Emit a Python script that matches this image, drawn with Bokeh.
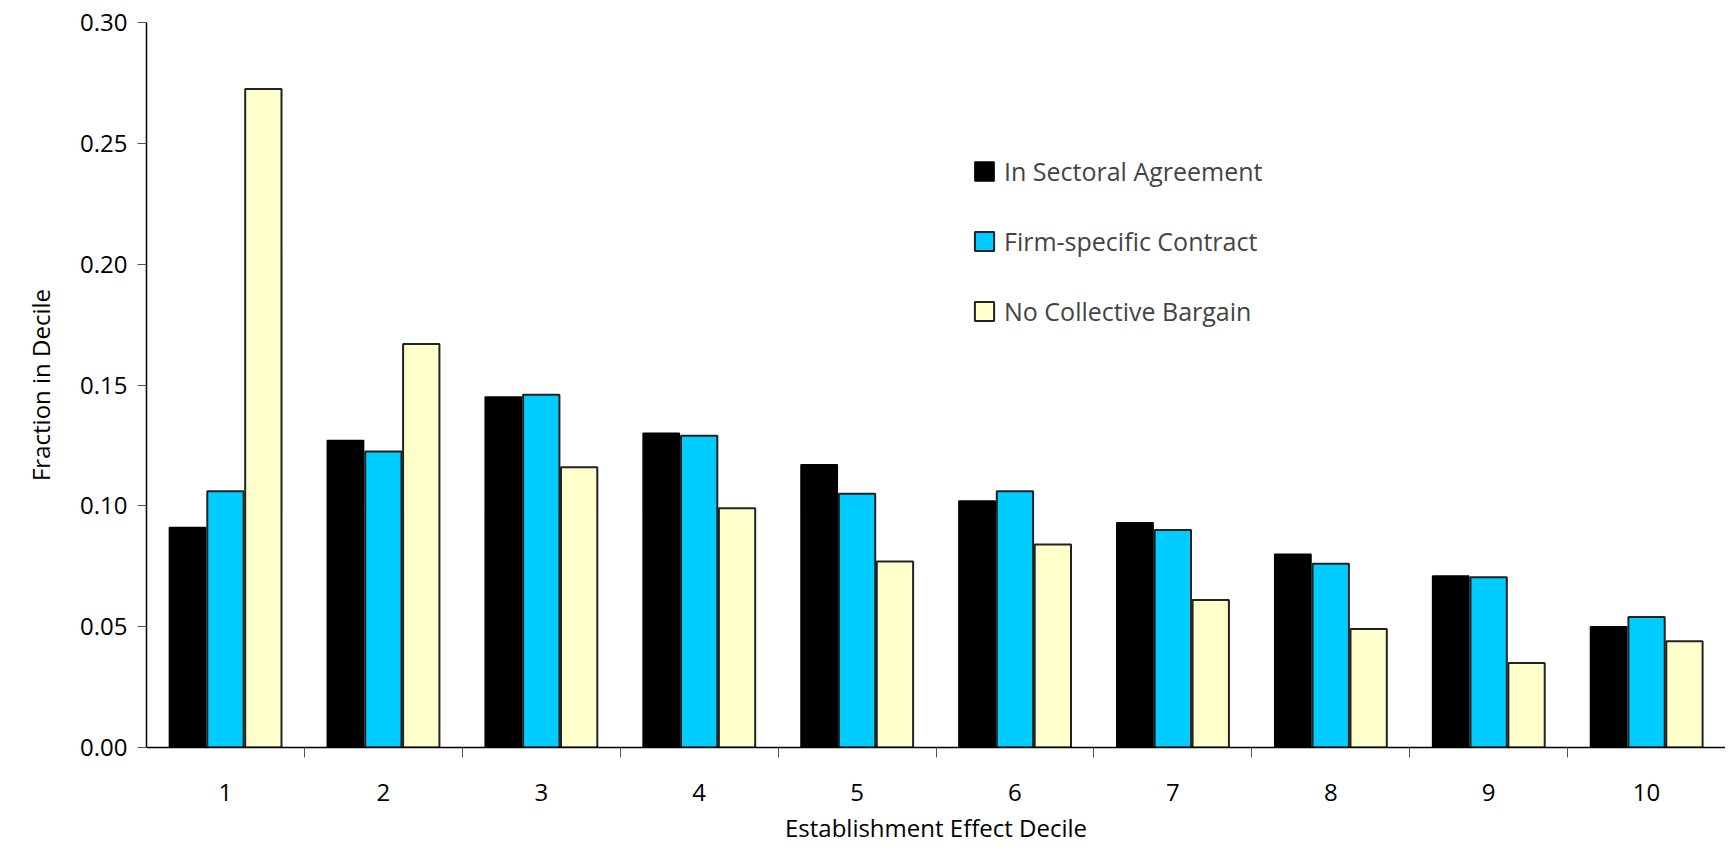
from bokeh.plotting import figure
from bokeh.models import FixedTicker, Legend, LegendItem, CustomJSTickFormatter
from bokeh.embed import file_html
from bokeh.resources import INLINE

deciles = [1, 2, 3, 4, 5, 6, 7, 8, 9, 10]
sectoral = [0.091, 0.127, 0.145, 0.130, 0.117, 0.102, 0.093, 0.080, 0.071, 0.050]
firm = [0.106, 0.1225, 0.146, 0.129, 0.105, 0.106, 0.090, 0.076, 0.0705, 0.054]
no_cb = [0.2725, 0.167, 0.116, 0.099, 0.077, 0.084, 0.061, 0.049, 0.035, 0.044]

FONT = "Open Sans"

p = figure(width=1725, height=846, x_range=(0.5, 10.5), y_range=(0, 0.30),
           output_backend="svg", toolbar_location=None,
           min_border_left=146, min_border_right=0, min_border_top=22, min_border_bottom=84)
p.outline_line_color = None
p.xgrid.visible = False
p.ygrid.visible = False

w = 0.23
r1 = p.vbar(x=[d - 0.24 for d in deciles], top=sectoral, width=w, bottom=0,
            fill_color="black", line_color="black", line_width=1.5)
r2 = p.vbar(x=deciles, top=firm, width=w, bottom=0,
            fill_color="#00ccff", line_color="#222222", line_width=2)
r3 = p.vbar(x=[d + 0.24 for d in deciles], top=no_cb, width=w, bottom=0,
            fill_color="#ffffcc", line_color="#222222", line_width=2)

p.xaxis.ticker = FixedTicker(ticks=deciles, minor_ticks=[d + 0.5 for d in deciles])
p.xaxis.major_tick_out = 0
p.xaxis.major_tick_in = 0
p.xaxis.minor_tick_out = 10
p.xaxis.minor_tick_in = 0
p.xaxis.minor_tick_line_color = "#555555"
p.xaxis.major_label_standoff = 26
p.xaxis.axis_label = "Establishment Effect Decile"

p.yaxis.ticker = FixedTicker(ticks=[0, 0.05, 0.10, 0.15, 0.20, 0.25, 0.30])
p.yaxis.formatter = CustomJSTickFormatter(code="return tick.toFixed(2);")
p.yaxis.minor_tick_line_color = None
p.yaxis.major_tick_out = 9
p.yaxis.major_tick_in = 0
p.yaxis.major_label_standoff = 10
p.yaxis.axis_label = "Fraction in Decile"

for ax in (p.xaxis, p.yaxis):
    ax.axis_line_color = "black"
    ax.axis_line_width = 1.5
    ax.major_tick_line_color = "#555555"
    ax.major_label_text_font = FONT
    ax.major_label_text_font_size = "24px"
    ax.major_label_text_color = "black"
    ax.axis_label_text_font = FONT
    ax.axis_label_text_font_size = "24px"
    ax.axis_label_text_font_style = "normal"
    ax.axis_label_text_color = "black"
p.xaxis.axis_label_standoff = 7
p.yaxis.axis_label_standoff = 20

legend = Legend(items=[LegendItem(label="In Sectoral Agreement", renderers=[r1]),
                       LegendItem(label="Firm-specific Contract", renderers=[r2]),
                       LegendItem(label="No Collective Bargain", renderers=[r3])],
                location=(826, 419), border_line_color=None, background_fill_alpha=0,
                label_text_font=FONT, label_text_font_size="25px",
                glyph_width=24, glyph_height=24, spacing=36, label_standoff=8)
p.add_layout(legend)

open("out.html", "w").write(file_html(p, INLINE))
